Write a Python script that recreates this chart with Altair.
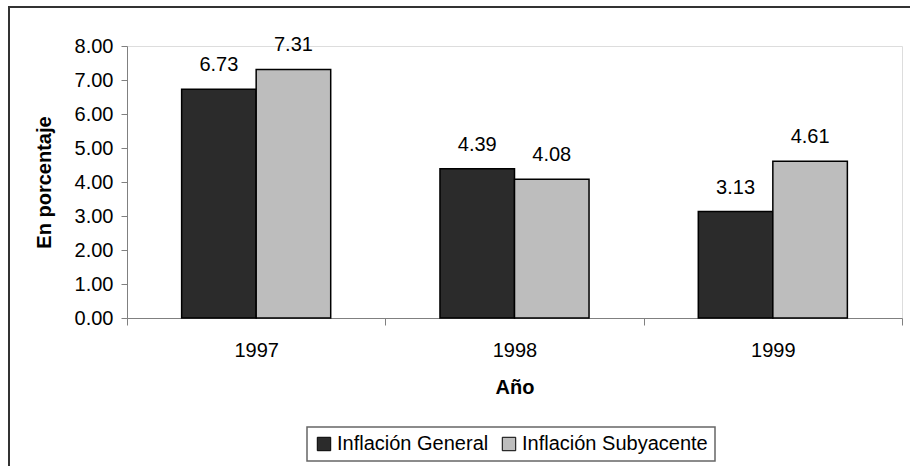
import altair as alt
import pandas as pd

# Inflation by year, in percent
years = ["1997", "1998", "1999"]
series = ["Inflación General", "Inflación Subyacente"]
general = [6.73, 4.39, 3.13]
subyacente = [7.31, 4.08, 4.61]

rows = []
for i, y in enumerate(years):
    rows.append({"Año": y, "Serie": series[0], "Valor": general[i]})
    rows.append({"Año": y, "Serie": series[1], "Valor": subyacente[i]})
df = pd.DataFrame(rows)

FONT = "Liberation Sans"

x = alt.X(
    "Año:N",
    sort=years,
    scale=alt.Scale(paddingInner=0, paddingOuter=0),
    axis=alt.Axis(
        title="Año",
        labelAngle=0,
        tickBand="extent",
        tickSize=7,
        labelPadding=15,
        labelFontSize=20,
        labelColor="black",
        titleFontSize=20,
        titleFontWeight="bold",
        titleColor="black",
        titleBaseline="alphabetic",
        titleY=75,
        domainColor="#808080",
        tickColor="#808080",
        grid=False,
    ),
)
xoff = alt.XOffset(
    "Serie:N",
    sort=series,
    scale=alt.Scale(paddingInner=0, paddingOuter=0.733),
)
y = alt.Y(
    "Valor:Q",
    scale=alt.Scale(domain=[0, 8], nice=False),
    axis=alt.Axis(
        title="En porcentaje",
        values=[0, 1, 2, 3, 4, 5, 6, 7, 8],
        format=".2f",
        tickSize=6,
        labelPadding=8,
        labelFontSize=20,
        labelColor="black",
        titleFontSize=20,
        titleFontWeight="bold",
        titleColor="black",
        titleAngle=270,
        titleBaseline="alphabetic",
        titleAlign="center",
        titleX=-77,
        titleY=136,
        domainColor="#808080",
        tickColor="#808080",
        grid=False,
    ),
)
color = alt.Color(
    "Serie:N",
    sort=series,
    scale=alt.Scale(domain=series, range=["#2b2b2b", "#bdbdbd"]),
    legend=alt.Legend(
        title=None,
        orient="none",
        legendX=180,
        legendY=381,
        direction="horizontal",
        columns=2,
        symbolType="square",
        symbolSize=180,
        symbolStrokeColor="black",
        symbolStrokeWidth=1,
        symbolOpacity=1,
        labelFontSize=20,
        labelColor="black",
        labelOffset=3,
        labelLimit=400,
        columnPadding=10,
        padding=7,
        strokeColor="#666666",
    ),
)

bars = alt.Chart(df).mark_bar(stroke="black", strokeWidth=1.5).encode(
    x=x, xOffset=xoff, y=y, color=color
)

labels = alt.Chart(df).mark_text(
    baseline="alphabetic", dy=-18, fontSize=20, font=FONT, color="black"
).encode(
    x=x, xOffset=xoff, y=y, text=alt.Text("Valor:Q", format=".2f")
)

# outer frame around the whole figure
frame = alt.Chart(df).mark_rect(
    filled=False, stroke="#333333", strokeWidth=2
).encode(
    x=alt.value(-118), x2=alt.value(900), y=alt.value(-39), y2=alt.value(500)
)

chart = alt.layer(bars, labels, frame).properties(
    width=775,
    height=272,
    padding={"left": 127, "top": 46, "right": 8, "bottom": 148},
    autosize=alt.AutoSizeParams(type="none"),
    background="white",
).configure_view(stroke=None).configure(font=FONT).configure_legend(
    strokeWidth=1.5
)

chart.save("out.html", embed_options={"renderer": "svg", "actions": False})
